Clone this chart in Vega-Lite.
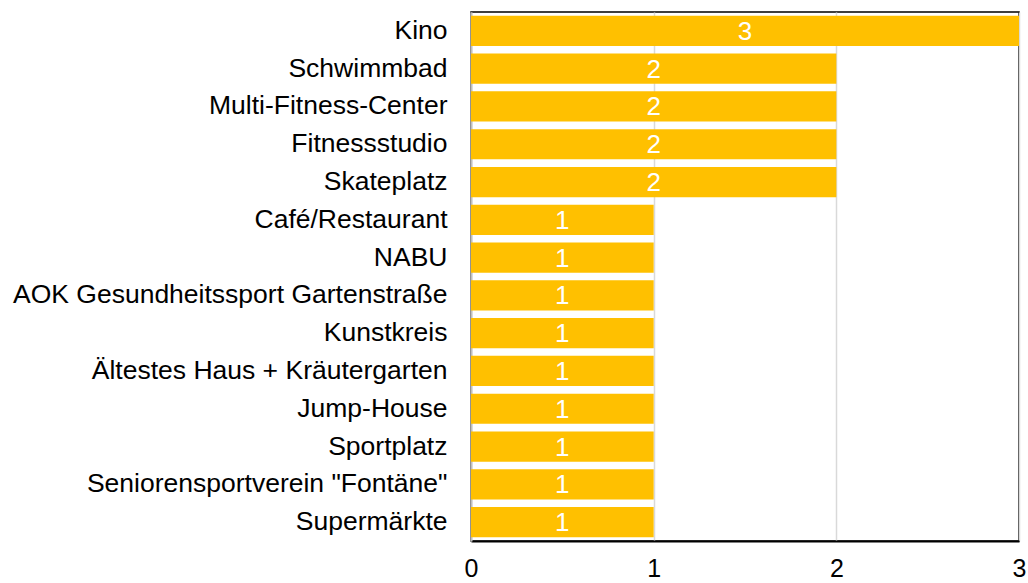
{
  "$schema": "https://vega.github.io/schema/vega-lite/v6.json",
  "width": 548,
  "height": 529,
  "autosize": {"type": "none"},
  "padding": {"left": 471, "top": 12, "right": 9, "bottom": 42},
  "background": "white",
  "config": {
    "font": "Liberation Sans",
    "view": {"stroke": "black", "strokeWidth": 1.5}
  },
  "data": {
    "values": [
      {"ort": "Kino", "anzahl": 3},
      {"ort": "Schwimmbad", "anzahl": 2},
      {"ort": "Multi-Fitness-Center", "anzahl": 2},
      {"ort": "Fitnessstudio", "anzahl": 2},
      {"ort": "Skateplatz", "anzahl": 2},
      {"ort": "Café/Restaurant", "anzahl": 1},
      {"ort": "NABU", "anzahl": 1},
      {"ort": "AOK Gesundheitssport Gartenstraße", "anzahl": 1},
      {"ort": "Kunstkreis", "anzahl": 1},
      {"ort": "Ältestes Haus + Kräutergarten", "anzahl": 1},
      {"ort": "Jump-House", "anzahl": 1},
      {"ort": "Sportplatz", "anzahl": 1},
      {"ort": "Seniorensportverein \"Fontäne\"", "anzahl": 1},
      {"ort": "Supermärkte", "anzahl": 1}
    ]
  },
  "encoding": {
    "y": {
      "field": "ort",
      "type": "nominal",
      "sort": null,
      "scale": {"paddingInner": 0.2, "paddingOuter": 0.1},
      "axis": {
        "title": null,
        "ticks": false,
        "labelFontSize": 26.5,
        "labelColor": "black",
        "labelPadding": 24,
        "labelLimit": 0,
        "domainColor": "#bfbfbf",
        "domainWidth": 2
      }
    }
  },
  "layer": [
    {
      "mark": {"type": "bar", "color": "#FFC000"},
      "encoding": {
        "x": {
          "field": "anzahl",
          "type": "quantitative",
          "scale": {"domain": [0, 3], "nice": false},
          "axis": {
            "title": null,
            "values": [0, 1, 2, 3],
            "format": "d",
            "ticks": false,
            "labelFontSize": 25,
            "labelColor": "black",
            "labelPadding": 15,
            "labelFlush": false,
            "domainColor": "black",
            "domainWidth": 2,
            "gridColor": "#d9d9d9",
            "gridWidth": 1.5
          }
        }
      }
    },
    {
      "mark": {"type": "text", "color": "white", "fontSize": 26, "baseline": "middle", "align": "center", "dy": 1},
      "encoding": {
        "x": {
          "field": "anzahl",
          "type": "quantitative",
          "scale": {"domain": [0, 6], "nice": false},
          "axis": null
        },
        "text": {"field": "anzahl", "type": "quantitative"}
      }
    }
  ],
  "resolve": {"scale": {"x": "independent"}}
}
